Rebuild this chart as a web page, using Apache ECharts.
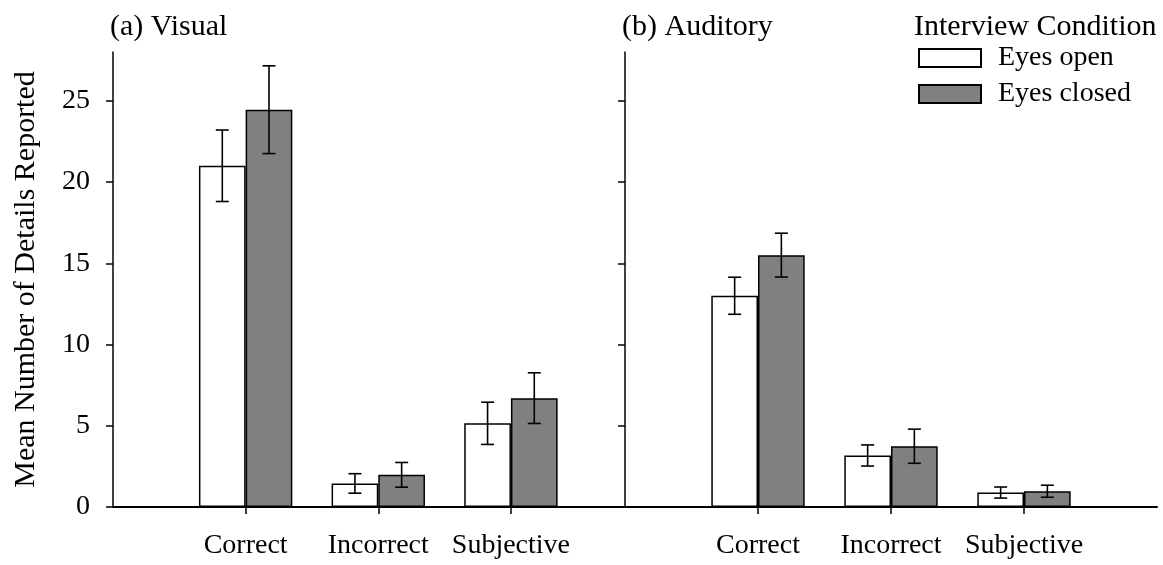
<!DOCTYPE html>
<html>
<head>
<meta charset="utf-8">
<script src="https://cdn.jsdelivr.net/npm/echarts@6/dist/echarts.min.js"></script>
<style>
  html, body { margin: 0; padding: 0; background: #fff; }
  #main { width: 1163px; height: 565px; }
</style>
</head>
<body>
<div id="main"></div>
<script>
// categories + positions on the x value axis
var categories = ['Correct', 'Incorrect', 'Subjective'];
var catPos = [1, 2, 3];
var yTicks = [0, 5, 10, 15, 20, 25];
var legendNames = ['Eyes open', 'Eyes closed'];

// (a) Visual
var visualOpen = [21.0, 1.45, 5.15];
var visualOpenErr = [2.2, 0.6, 1.3];
var visualClosed = [24.45, 1.98, 6.7];
var visualClosedErr = [2.7, 0.76, 1.56];

// (b) Auditory
var audOpen = [13.0, 3.17, 0.89];
var audOpenErr = [1.14, 0.65, 0.34];
var audClosed = [15.5, 3.74, 0.97];
var audClosedErr = [1.35, 1.05, 0.37];

var FONT = '"Liberation Serif", "Times New Roman", serif';
var BAR_W = 46.7;
var CAP = 6.5;

function pairs(vals) {
    var out = [];
    for (var i = 0; i < vals.length; i++) {
        out.push([catPos[i], vals[i]]);
    }
    return out;
}

function errData(vals, errs, side) {
    var out = [];
    for (var i = 0; i < vals.length; i++) {
        out.push([catPos[i], vals[i] - errs[i], vals[i] + errs[i], side]);
    }
    return out;
}

function renderErr(params, api) {
    var x = api.value(0);
    var lo = api.coord([x, api.value(1)]);
    var hi = api.coord([x, api.value(2)]);
    var cx = lo[0] + api.value(3) * BAR_W / 2;
    var st = { stroke: '#000', lineWidth: 1.6 };
    return {
        type: 'group',
        children: [
            { type: 'line', shape: { x1: cx, y1: hi[1], x2: cx, y2: lo[1] }, style: st },
            { type: 'line', shape: { x1: cx - CAP, y1: hi[1], x2: cx + CAP, y2: hi[1] }, style: st },
            { type: 'line', shape: { x1: cx - CAP, y1: lo[1], x2: cx + CAP, y2: lo[1] }, style: st }
        ]
    };
}

function xAxisFor(gi, max) {
    return {
        type: 'value', gridIndex: gi, min: 0, max: max,
        splitLine: { show: false },
        axisLine: { show: true, lineStyle: { color: '#000', width: 2 } },
        axisTick: { show: true, length: 7, customValues: catPos, lineStyle: { color: '#000', width: 1.5 } },
        axisLabel: {
            customValues: catPos, margin: 25, color: '#000', fontSize: 28, fontFamily: FONT,
            formatter: function (v) { return categories[Math.round(v) - 1] || ''; }
        }
    };
}

function yAxisFor(gi, showLabel) {
    var ax = {
        type: 'value', gridIndex: gi, min: 0, max: 28,
        splitLine: { show: false },
        axisLine: { show: true, lineStyle: { color: '#000', width: 1.5 } },
        axisTick: { show: true, length: 7, customValues: yTicks, lineStyle: { color: '#000', width: 1.5 } },
        axisLabel: { show: showLabel, customValues: yTicks, margin: 23, color: '#000', fontSize: 28, fontFamily: FONT }
    };
    if (showLabel) {
        ax.name = 'Mean Number of Details Reported';
        ax.nameLocation = 'middle';
        ax.nameGap = 72;
        ax.nameMoveOverlap = false;
        ax.nameTextStyle = { color: '#000', fontSize: 30, fontFamily: FONT };
    }
    return ax;
}

var openStyle = { color: '#ffffff', borderColor: '#000', borderWidth: 1.5 };
var closedStyle = { color: '#808080', borderColor: '#000', borderWidth: 1.5 };
var titleText = { color: '#000', fontSize: 30, fontWeight: 'normal', fontFamily: FONT };

var myChart = echarts.init(document.getElementById('main'));
var option = {
    backgroundColor: '#fff',
    animation: false,
    title: [
        { text: '(a) Visual', left: 110, top: 12, padding: 0, textStyle: titleText },
        { text: '(b) Auditory', left: 622, top: 12, padding: 0, textStyle: titleText },
        { text: 'Interview Condition', left: 914, top: 12, padding: 0, textStyle: titleText }
    ],
    legend: {
        data: legendNames, orient: 'vertical', left: 918, top: 44, padding: 0,
        itemWidth: 62, itemHeight: 18, itemGap: 8, icon: 'rect', selectedMode: false,
        textStyle: { color: '#000', fontSize: 28, fontFamily: FONT, padding: [0, 0, 0, 12] }
    },
    grid: [
        { left: 113, right: 538, top: 52, bottom: 58, outerBoundsMode: 'none' },
        { left: 625, right: 6, top: 52, bottom: 58, outerBoundsMode: 'none' }
    ],
    xAxis: [xAxisFor(0, 3.86), xAxisFor(1, 4.0)],
    yAxis: [yAxisFor(0, true), yAxisFor(1, false)],
    series: [
        { name: 'Eyes open', type: 'bar', xAxisIndex: 0, yAxisIndex: 0, barWidth: BAR_W, barGap: '0%', data: pairs(visualOpen), itemStyle: openStyle },
        { name: 'Eyes closed', type: 'bar', xAxisIndex: 0, yAxisIndex: 0, barWidth: BAR_W, barGap: '0%', data: pairs(visualClosed), itemStyle: closedStyle },
        { name: 'Eyes open', type: 'bar', xAxisIndex: 1, yAxisIndex: 1, barWidth: BAR_W, barGap: '0%', data: pairs(audOpen), itemStyle: openStyle },
        { name: 'Eyes closed', type: 'bar', xAxisIndex: 1, yAxisIndex: 1, barWidth: BAR_W, barGap: '0%', data: pairs(audClosed), itemStyle: closedStyle },
        { type: 'custom', xAxisIndex: 0, yAxisIndex: 0, renderItem: renderErr, z: 5,
          data: errData(visualOpen, visualOpenErr, -1).concat(errData(visualClosed, visualClosedErr, 1)) },
        { type: 'custom', xAxisIndex: 1, yAxisIndex: 1, renderItem: renderErr, z: 5,
          data: errData(audOpen, audOpenErr, -1).concat(errData(audClosed, audClosedErr, 1)) }
    ]
};

myChart.setOption(option);
</script>
</body>
</html>
